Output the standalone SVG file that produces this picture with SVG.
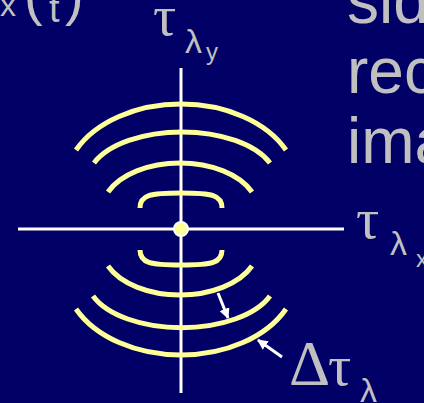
<svg xmlns="http://www.w3.org/2000/svg" width="424" height="403" viewBox="0 0 424 403">
  <defs>
    <style>
      .bg { fill: #000066; }
      .axis { stroke: #ffffff; stroke-width: 3; fill: none; }
      .wave { stroke: #ffff99; stroke-width: 5; fill: none; stroke-linecap: butt; }
      .arr { stroke: #ffffff; stroke-width: 3; fill: none; marker-end: url(#head); }
      .lbl { fill: #c0c0c0; font-family: "Liberation Sans", Arial, sans-serif; }
      .gr { fill: #c0c0c0; font-family: "Liberation Serif", "DejaVu Serif", serif; }
    </style>
    <marker id="head" viewBox="0 0 10 10" refX="9" refY="5" markerWidth="3.5" markerHeight="3.5" orient="auto" markerUnits="strokeWidth">
      <path d="M0,0 L10,5 L0,10 Z" fill="#ffffff"/>
    </marker>
  </defs>
  <rect class="bg" x="0" y="0" width="424" height="403"/>

  <g id="title-fragment">
    <text class="lbl" x="0" y="16" font-size="32">x</text>
    <text class="lbl" x="24" y="14" font-size="56">(</text>
    <text class="lbl" x="49" y="22" font-size="38">t</text>
    <text class="lbl" x="65" y="14" font-size="56">)</text>
  </g>

  <g id="side-text">
    <text class="lbl" x="347" y="23" font-size="64">sid</text>
    <text class="lbl" x="347" y="93" font-size="64">rec</text>
    <text class="lbl" x="347" y="163" font-size="64">ima</text>
  </g>

  <g id="axes">
    <line class="axis" x1="181" y1="68" x2="181" y2="393"/>
    <line class="axis" x1="18" y1="229" x2="344" y2="229"/>
  </g>

  <g id="wavefronts">
    <path class="wave" d="M76,150 A116.7,81.6 0 0 1 286,150"/>
    <path class="wave" d="M94,163 A94.6,49 0 0 1 270,163"/>
    <path class="wave" d="M108,192 A78.3,47.7 0 0 1 252,192"/>
    <path class="wave" d="M140,208 C140,195 150,193 181,193 C212,193 222,195 222,208"/>
    <path class="wave" d="M140,250 C140,263 150,265 181,265 C212,265 222,263 222,250"/>
    <path class="wave" d="M108,266 A78.3,47.7 0 0 0 252,266"/>
    <path class="wave" d="M93,296 A94.6,49 0 0 0 270,296"/>
    <path class="wave" d="M76,309 A116.7,81.6 0 0 0 286,309"/>
  </g>

  <g id="center">
    <circle cx="181" cy="229" r="7" fill="#ffff99" stroke="#ffffff" stroke-width="2"/>
  </g>

  <g id="connectors">
    <line class="arr" x1="218" y1="293" x2="228" y2="318"/>
    <line class="arr" x1="282" y1="357" x2="258" y2="340"/>
  </g>

  <g id="label-tau-y">
    <text class="gr" x="153" y="35" font-size="58">τ</text>
    <text class="lbl" x="185" y="53" font-size="34">λ</text>
    <text class="lbl" x="206" y="60" font-size="24">y</text>
  </g>
  <g id="label-tau-x">
    <text class="gr" x="356" y="238" font-size="58">τ</text>
    <text class="lbl" x="390" y="255" font-size="34">λ</text>
    <text class="lbl" x="416" y="267" font-size="24">x</text>
  </g>
  <g id="label-delta">
    <text class="gr" x="289" y="385" font-size="64">Δ</text>
    <text class="gr" x="328" y="385" font-size="58">τ</text>
    <text class="lbl" x="360" y="402" font-size="34">λ</text>
  </g>
</svg>
